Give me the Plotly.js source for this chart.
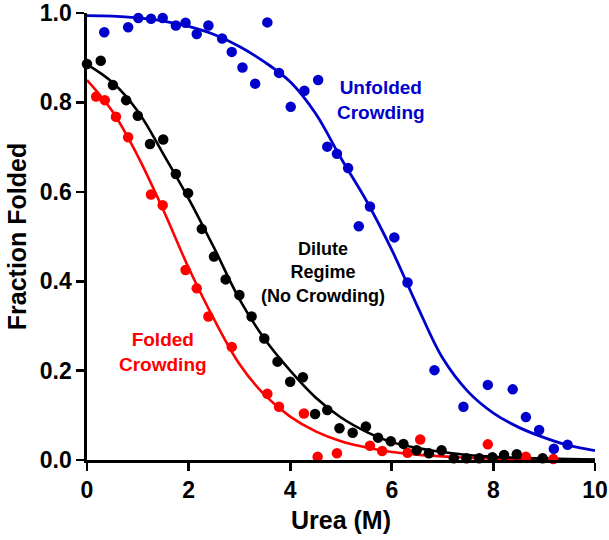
<!DOCTYPE html>
<html>
<head>
<meta charset="utf-8">
<script src="https://cdn.plot.ly/plotly-3.0.1.min.js"></script>
<style>
  html, body { margin: 0; padding: 0; background: #ffffff; }
  #chart { width: 609px; height: 540px; }
</style>
</head>
<body>
<div id="chart"></div>
<script>
// ---- Data ----
// Unfolded crowding (blue) measured points
var blueX = [0.34, 0.81, 1.01, 1.26, 1.49, 1.75, 1.94, 2.16, 2.39, 2.66, 2.85, 3.06, 3.31, 3.55, 3.78, 4.01, 4.28, 4.55, 4.73, 4.92, 5.14, 5.35, 5.57, 6.05, 6.31, 6.84, 7.41, 7.89, 8.38, 8.64, 8.90, 9.19, 9.46];
var blueY = [0.957, 0.968, 0.989, 0.987, 0.989, 0.972, 0.978, 0.953, 0.972, 0.943, 0.913, 0.878, 0.842, 0.979, 0.866, 0.790, 0.826, 0.850, 0.701, 0.685, 0.653, 0.523, 0.567, 0.498, 0.397, 0.201, 0.119, 0.168, 0.158, 0.096, 0.067, 0.025, 0.034];

// Dilute regime (black) measured points
var blackX = [0.00, 0.27, 0.51, 0.77, 1.00, 1.24, 1.50, 1.75, 1.99, 2.26, 2.50, 2.73, 3.00, 3.24, 3.49, 3.75, 4.00, 4.25, 4.49, 4.73, 4.97, 5.23, 5.49, 5.73, 5.98, 6.23, 6.49, 6.73, 6.98, 7.22, 7.47, 7.72, 7.98, 8.21, 8.46, 8.97];
var blackY = [0.886, 0.893, 0.839, 0.805, 0.770, 0.707, 0.717, 0.640, 0.597, 0.517, 0.455, 0.404, 0.369, 0.321, 0.272, 0.220, 0.175, 0.185, 0.103, 0.112, 0.071, 0.061, 0.075, 0.050, 0.042, 0.036, 0.022, 0.015, 0.022, 0.004, 0.004, 0.004, 0.006, 0.011, 0.013, 0.004];

// Folded crowding (red) measured points
var redX = [0.18, 0.35, 0.57, 0.81, 1.26, 1.49, 1.94, 2.16, 2.39, 2.85, 3.55, 3.78, 4.27, 4.54, 4.73, 4.92, 5.57, 5.81, 6.31, 6.56, 7.89, 8.64, 9.18];
var redY = [0.813, 0.805, 0.768, 0.722, 0.594, 0.570, 0.425, 0.384, 0.321, 0.253, 0.148, 0.119, 0.104, 0.007, -0.002, 0.015, 0.032, 0.020, 0.016, 0.046, 0.035, 0.007, 0.002];

// Fitted curves
var fitX      = [0, 0.5, 1.0, 1.5, 2.0, 2.5, 3.0, 3.5, 4.0, 4.5, 5.0, 5.5, 6.0, 6.5, 7.0, 7.5, 8.0, 8.5, 9.0, 9.5, 10];
var blueFitY  = [0.994, 0.993, 0.989, 0.982, 0.970, 0.952, 0.925, 0.890, 0.846, 0.775, 0.675, 0.580, 0.470, 0.345, 0.228, 0.153, 0.105, 0.073, 0.050, 0.032, 0.021];
var blackFitY = [0.885, 0.845, 0.780, 0.685, 0.585, 0.475, 0.360, 0.270, 0.200, 0.140, 0.095, 0.063, 0.040, 0.027, 0.018, 0.011, 0.007, 0.005, 0.003, 0.002, 0.001];
var redFitY   = [0.850, 0.780, 0.680, 0.560, 0.430, 0.315, 0.215, 0.145, 0.097, 0.064, 0.042, 0.028, 0.018, 0.012, 0.008, 0.005, 0.003, 0.002, 0.001, 0.001, 0.0005];

// Tick labels
var xTicks = [0, 2, 4, 6, 8, 10];
var yTicks = [0, 0.2, 0.4, 0.6, 0.8, 1.0];
var yTickText = ['0.0', '0.2', '0.4', '0.6', '0.8', '1.0'];

var BLUE = '#0000cc', RED = '#ff0000', BLACK = '#000000';
var FONT = 'Arial, "Liberation Sans", sans-serif';

function fitTrace(y, color, w) {
  return { x: fitX, y: y, type: 'scatter', mode: 'lines', line: { color: color, width: w, shape: 'spline' }, hoverinfo: 'skip', showlegend: false, cliponaxis: false };
}
function ptTrace(x, y, color) {
  return { x: x, y: y, type: 'scatter', mode: 'markers', marker: { color: color, size: 10.5, symbol: 'circle' }, showlegend: false, cliponaxis: false };
}

var data = [
  fitTrace(redFitY, RED, 2.6),
  fitTrace(blackFitY, BLACK, 2.6),
  fitTrace(blueFitY, BLUE, 2.8),
  ptTrace(redX, redY, RED),
  ptTrace(blackX, blackY, BLACK),
  ptTrace(blueX, blueY, BLUE)
];

var axisCommon = {
  showgrid: false, zeroline: false, showline: true, linecolor: BLACK, linewidth: 2.6,
  ticks: 'outside', ticklen: 8, tickwidth: 2.6, tickcolor: BLACK,
  tickfont: { family: FONT, size: 23, color: BLACK, weight: 'bold' },
  fixedrange: true
};

var layout = {
  width: 609, height: 540,
  margin: { l: 87, r: 14, t: 13, b: 80 },
  paper_bgcolor: '#ffffff', plot_bgcolor: '#ffffff',
  showlegend: false,
  font: { family: FONT, color: BLACK },
  xaxis: Object.assign({}, axisCommon, {
    range: [0, 10], tickvals: xTicks, ticktext: xTicks.map(String),
    title: { text: '<b>Urea (M)</b>', font: { family: FONT, size: 25, color: BLACK }, standoff: 10 }
  }),
  yaxis: Object.assign({}, axisCommon, {
    range: [0, 1.0], tickvals: yTicks, ticktext: yTickText,
    title: { text: '<b>Fraction Folded</b>', font: { family: FONT, size: 25, color: BLACK }, standoff: 6 }
  }),
  annotations: [
    { xref: 'paper', yref: 'paper', x: (381 - 87) / 508, y: (460 - 100) / 447, xanchor: 'center', yanchor: 'middle',
      text: '<b>Unfolded<br>Crowding</b>', showarrow: false, font: { family: FONT, size: 19, color: BLUE } },
    { xref: 'paper', yref: 'paper', x: (323 - 87) / 508, y: (460 - 272) / 447, xanchor: 'center', yanchor: 'middle',
      text: '<b>Dilute<br>Regime<br>(No Crowding)</b>', showarrow: false, font: { family: FONT, size: 18, color: BLACK } },
    { xref: 'paper', yref: 'paper', x: (163 - 87) / 508, y: (460 - 352) / 447, xanchor: 'center', yanchor: 'middle',
      text: '<b>Folded<br>Crowding</b>', showarrow: false, font: { family: FONT, size: 19, color: RED } }
  ]
};

Plotly.newPlot('chart', data, layout, { staticPlot: true, displayModeBar: false });
</script>
</body>
</html>
